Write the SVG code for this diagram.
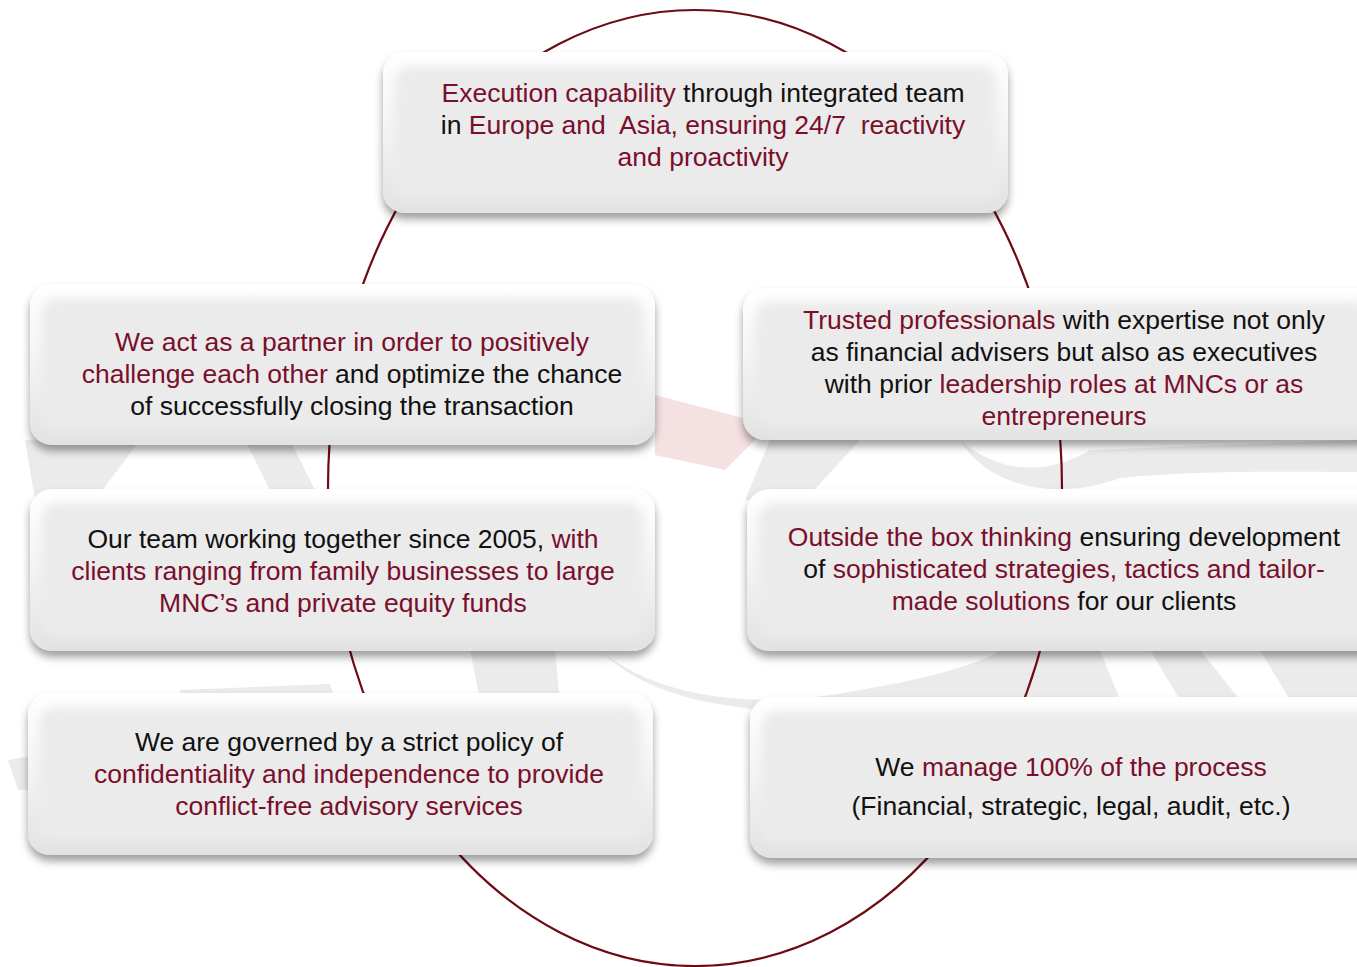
<svg xmlns="http://www.w3.org/2000/svg" width="1357" height="967" viewBox="0 0 1357 967">
  <style>
    .t { font-family: "Liberation Sans", Arial, sans-serif; font-size: 26.5px; fill: #111111; text-anchor: middle; }
    .r { fill: #7a0f2c; }
    .ring { fill: none; stroke: #6e0a14; stroke-width: 2.2; }
    .wm { fill: #ebebeb; }
    .wmr { fill: #f5e0e2; }
  </style>
  <defs>
    <linearGradient id="outer" x1="0" y1="0" x2="0" y2="1">
      <stop offset="0" stop-color="#ffffff"/>
      <stop offset="0.5" stop-color="#f3f3f3"/>
      <stop offset="1" stop-color="#e2e2e2"/>
    </linearGradient>
    <filter id="shadow" x="-10%" y="-20%" width="120%" height="150%">
      <feDropShadow dx="0" dy="6" stdDeviation="4" flood-color="#000000" flood-opacity="0.38"/>
    </filter>
    <filter id="soft" x="-10%" y="-20%" width="120%" height="140%">
      <feGaussianBlur stdDeviation="5"/>
    </filter>
  </defs>

  <rect width="1357" height="967" fill="#ffffff"/>

  <g id="watermark">
    <polygon class="wm" points="25,440 140,440 95,500 35,500"/>
    <polygon class="wm" points="245,440 290,440 320,500 275,500"/>
    <polygon class="wmr" points="655,395 770,425 725,470 655,455"/>
    <polygon class="wm" points="770,440 860,440 805,500 745,500"/>
    <path class="wm" d="M960,440 C1000,475 1050,475 1090,450 L1357,440 L1357,472 C1290,472 1200,470 1120,478 C1060,500 990,490 960,440 Z"/>
    <polygon class="wm" points="180,690 330,684 335,700 180,702"/>
    <polygon class="wm" points="470,650 555,650 560,700 480,700"/>
    <path class="wm" d="M600,650 C660,700 760,710 860,690 C920,680 980,665 1000,650 L1100,650 L1120,700 C1000,705 900,715 800,712 C700,708 640,690 600,650 Z"/>
    <polygon class="wm" points="1150,650 1200,650 1240,700 1180,700"/>
    <polygon class="wm" points="1260,650 1357,650 1357,700 1290,700"/>
    <polygon class="wm" points="8,760 30,756 30,790 18,790"/>
  </g>

  <g id="connectors">
    <ellipse class="ring" cx="695" cy="488" rx="367" ry="478"/>
  </g>

  <g id="node-top">
    <rect x="383" y="52" width="625" height="161" rx="22" fill="url(#outer)" filter="url(#shadow)"/>
    <rect x="395" y="66" width="601" height="133" rx="16" fill="#ebebeb" filter="url(#soft)"/>
    <text class="t" x="703" y="102"><tspan class="r">Execution capability</tspan> through integrated team</text>
    <text class="t" x="703" y="134" xml:space="preserve">in <tspan class="r">Europe and  Asia, ensuring 24/7  reactivity</tspan></text>
    <text class="t r" x="703" y="166">and proactivity</text>
  </g>

  <g id="node-partner">
    <rect x="30" y="284" width="625" height="161" rx="22" fill="url(#outer)" filter="url(#shadow)"/>
    <rect x="42" y="298" width="601" height="133" rx="16" fill="#ebebeb" filter="url(#soft)"/>
    <text class="t r" x="352" y="351">We act as a partner in order to positively</text>
    <text class="t" x="352" y="383"><tspan class="r">challenge each other</tspan> and optimize the chance</text>
    <text class="t" x="352" y="415">of successfully closing the transaction</text>
  </g>

  <g id="node-trusted">
    <rect x="743" y="288" width="640" height="152" rx="22" fill="url(#outer)" filter="url(#shadow)"/>
    <rect x="755" y="302" width="616" height="124" rx="16" fill="#ebebeb" filter="url(#soft)"/>
    <text class="t" x="1064" y="329"><tspan class="r">Trusted professionals</tspan> with expertise not only</text>
    <text class="t" x="1064" y="361">as financial advisers but also as executives</text>
    <text class="t" x="1064" y="393">with prior <tspan class="r">leadership roles at MNCs or as</tspan></text>
    <text class="t r" x="1064" y="425">entrepreneurs</text>
  </g>

  <g id="node-team">
    <rect x="30" y="489" width="625" height="162" rx="22" fill="url(#outer)" filter="url(#shadow)"/>
    <rect x="42" y="503" width="601" height="134" rx="16" fill="#ebebeb" filter="url(#soft)"/>
    <text class="t" x="343" y="548">Our team working together since 2005, <tspan class="r">with</tspan></text>
    <text class="t r" x="343" y="580">clients ranging from family businesses to large</text>
    <text class="t r" x="343" y="612">MNC’s and private equity funds</text>
  </g>

  <g id="node-outside">
    <rect x="747" y="489" width="640" height="162" rx="22" fill="url(#outer)" filter="url(#shadow)"/>
    <rect x="759" y="503" width="616" height="134" rx="16" fill="#ebebeb" filter="url(#soft)"/>
    <text class="t" x="1064" y="546"><tspan class="r">Outside the box thinking</tspan> ensuring development</text>
    <text class="t" x="1064" y="578">of <tspan class="r">sophisticated strategies, tactics and tailor-</tspan></text>
    <text class="t" x="1064" y="610"><tspan class="r">made solutions</tspan> for our clients</text>
  </g>

  <g id="node-governed">
    <rect x="28" y="693" width="625" height="162" rx="22" fill="url(#outer)" filter="url(#shadow)"/>
    <rect x="40" y="707" width="601" height="134" rx="16" fill="#ebebeb" filter="url(#soft)"/>
    <text class="t" x="349" y="751">We are governed by a strict policy of</text>
    <text class="t r" x="349" y="783">confidentiality and independence to provide</text>
    <text class="t r" x="349" y="815">conflict-free advisory services</text>
  </g>

  <g id="node-manage">
    <rect x="750" y="697" width="640" height="161" rx="22" fill="url(#outer)" filter="url(#shadow)"/>
    <rect x="762" y="711" width="616" height="133" rx="16" fill="#ebebeb" filter="url(#soft)"/>
    <text class="t" x="1071" y="776">We <tspan class="r">manage 100% of the process</tspan></text>
    <text class="t" x="1071" y="815">(Financial, strategic, legal, audit, etc.)</text>
  </g>
</svg>
